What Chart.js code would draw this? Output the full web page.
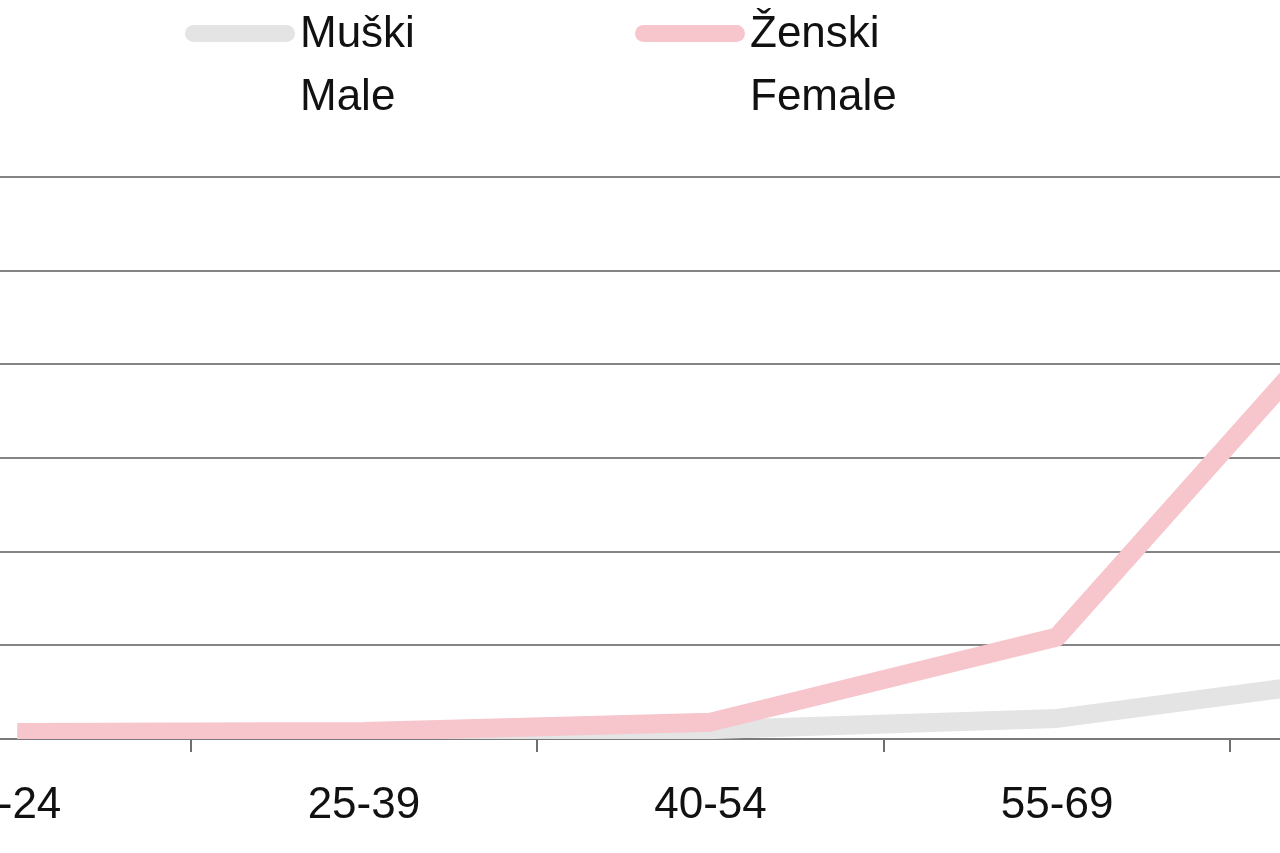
<!DOCTYPE html>
<html>
<head>
<meta charset="utf-8">
<script src="https://cdn.jsdelivr.net/npm/chart.js@4/dist/chart.umd.min.js"></script>
<style>
  html, body { margin: 0; padding: 0; background: #fff; overflow: hidden; }
  #wrap { position: relative; width: 1280px; height: 853px; overflow: hidden; }
  #chart { position: absolute; left: -156px; top: 0; }
  .key { position: absolute; top: 25px; width: 110px; height: 17px; border-radius: 9px; }
  .lbl { position: absolute; top: 0px; font-family: "Liberation Sans", Arial, sans-serif;
         font-size: 44px; line-height: 63px; color: #111; }
</style>
</head>
<body>
<div id="wrap">
  <canvas id="chart" width="1733" height="853"></canvas>
  <div class="key" style="left:185px;background:#e3e4e3"></div>
  <div class="lbl" style="left:300px">Muški<br>Male</div>
  <div class="key" style="left:635px;background:#f7c5cc"></div>
  <div class="lbl" style="left:750px">Ženski<br>Female</div>
</div>
<script>
// dobne skupine
const ageGroups = ["0-24", "25-39", "40-54", "55-69", "70+"];
// vrijednosti
const maleValues = [0.03, 0.04, 0.1, 0.22, 0.71];
const femaleValues = [0.07, 0.08, 0.18, 1.09, 5.24];
const yTicks = [0, 1, 2, 3, 4, 5, 6];

const lineBase = {
  borderWidth: 19,
  pointRadius: 0,
  tension: 0,
  borderJoinStyle: "round",
  borderCapStyle: "butt"
};

new Chart(document.getElementById("chart"), {
  type: "line",
  data: {
    labels: ageGroups,
    datasets: [
      Object.assign({ label: "Ženski / Female", data: femaleValues, borderColor: "#f7c5cc", order: 1 }, lineBase),
      Object.assign({ label: "Muški / Male", data: maleValues, borderColor: "#e3e4e3", order: 2 }, lineBase)
    ]
  },
  options: {
    responsive: false,
    animation: false,
    layout: { padding: { top: 177, left: 0, right: 0, bottom: 0 } },
    plugins: { legend: { display: false }, tooltip: { enabled: false } },
    scales: {
      x: {
        offset: true,
        grid: { offset: true, drawOnChartArea: false, tickLength: 13, color: "#6e6e6e", lineWidth: 2 },
        border: { color: "#7a7a7a", width: 2 },
        ticks: { color: "#111", padding: 27, font: { family: "Liberation Sans", size: 44 } },
        afterFit: s => { s.height = 114; }
      },
      y: {
        min: 0,
        max: 6,
        afterBuildTicks: s => { s.ticks = yTicks.map(v => ({ value: v })); },
        ticks: { display: false },
        grid: { color: "#858585", lineWidth: 2, drawTicks: false },
        border: { display: false },
        afterFit: s => { s.width = 0; }
      }
    }
  }
});
</script>
</body>
</html>
